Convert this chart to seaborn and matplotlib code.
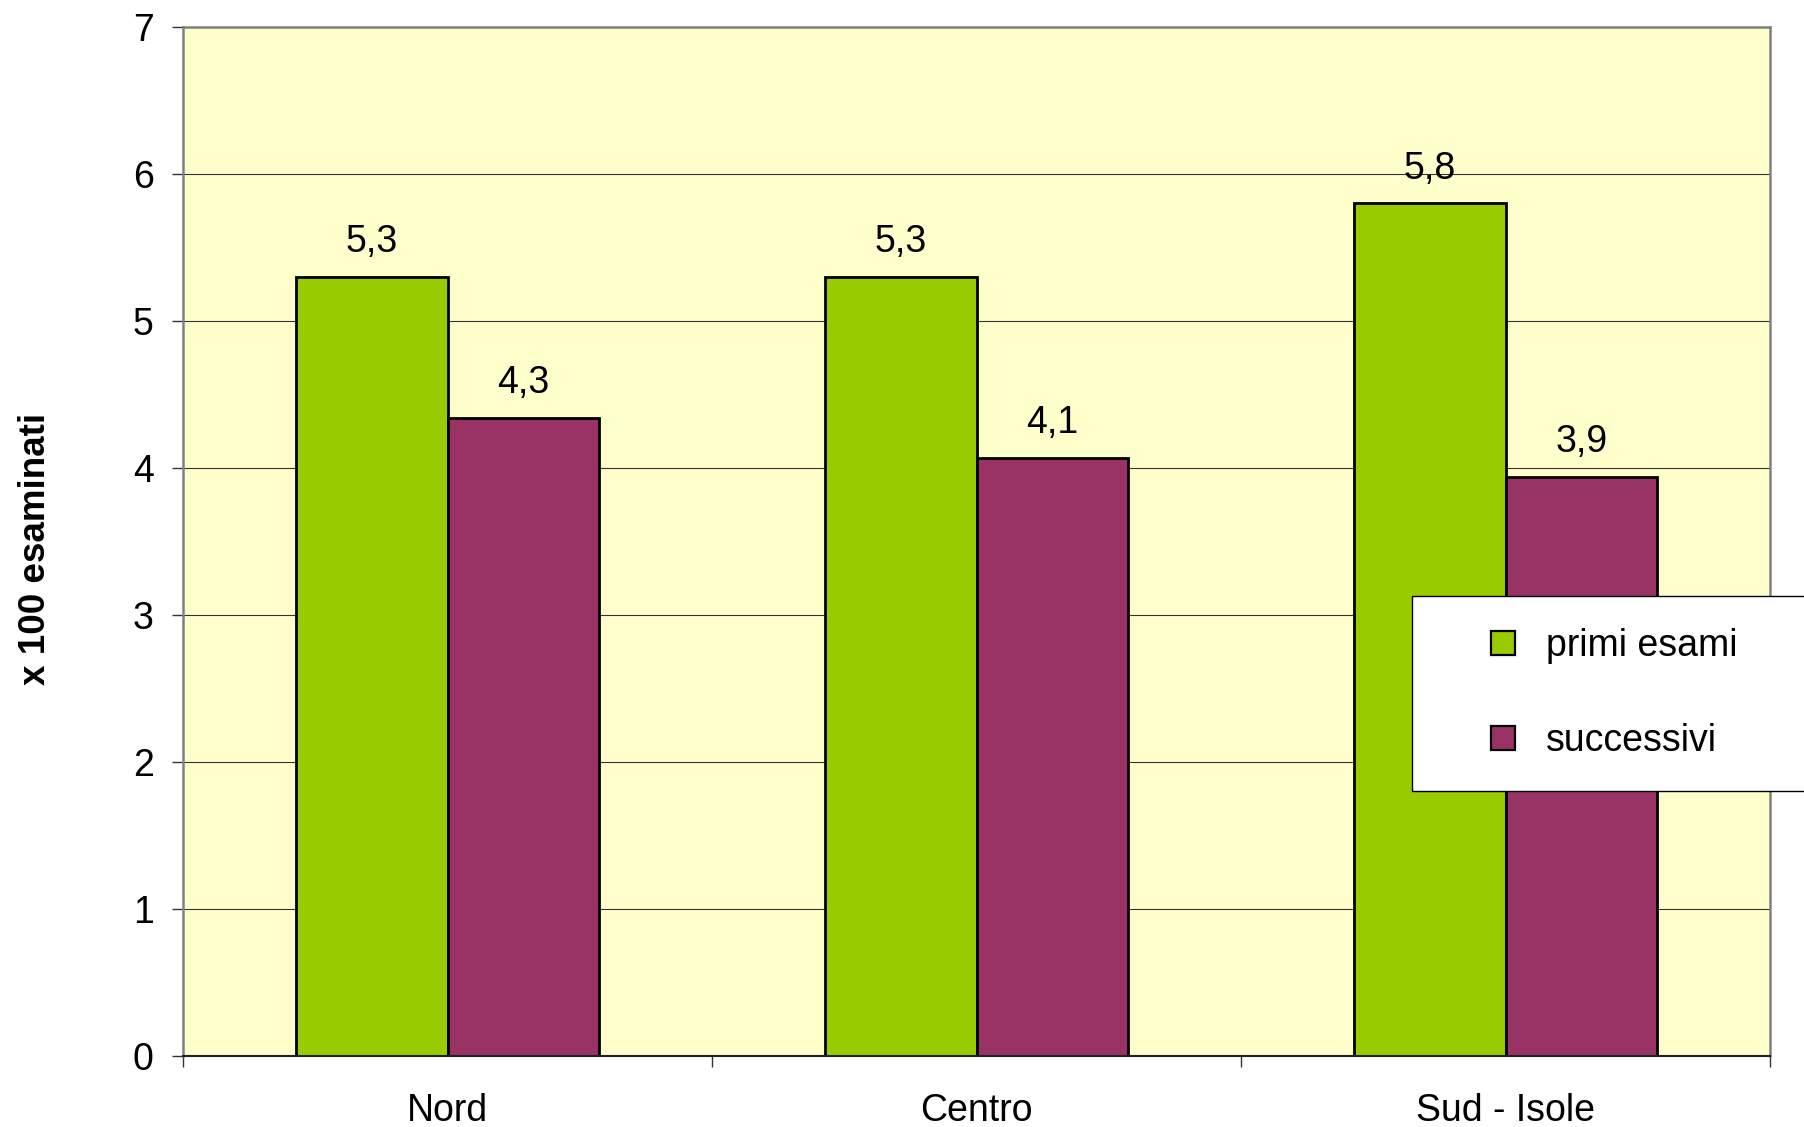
import matplotlib
matplotlib.use('Agg')
import matplotlib.pyplot as plt
import seaborn as sns
import pandas as pd
from matplotlib.lines import Line2D

regions = ['Nord', 'Centro', 'Sud - Isole']
series = ['primi esami', 'successivi']
primi_esami = [5.3, 5.3, 5.8]
successivi = [4.34, 4.07, 3.94]
colors = ['#99CC00', '#993366']
y_ticks = [0, 1, 2, 3, 4, 5, 6, 7]
y_label = 'x 100 esaminati'

df = pd.DataFrame({
    'regione': regions * 2,
    'serie': [series[0]] * len(regions) + [series[1]] * len(regions),
    'valore': primi_esami + successivi,
})

sns.set_style('white')
plt.rcParams['font.family'] = ['Liberation Sans', 'DejaVu Sans']
plt.rcParams['text.color'] = 'black'
plt.rcParams['xtick.labelcolor'] = 'black'
plt.rcParams['ytick.labelcolor'] = 'black'

FS = 27
W, H = 1804, 1127
fig = plt.figure(figsize=(W / 100, H / 100), dpi=100)
ax = fig.add_axes([183 / W, (H - 1056) / H, (1770 - 183) / W, (1056 - 27) / H])
ax.set_facecolor('#FFFFCC')

sns.barplot(data=df, x='regione', y='valore', hue='serie', order=regions,
            hue_order=series, palette=colors, width=0.573, gap=0,
            edgecolor='black', linewidth=2, saturation=1, legend=False, ax=ax)

ax.set_xlim(-0.5, len(regions) - 0.5)
ax.set_ylim(0, 7)
ax.set_yticks(y_ticks)
ax.yaxis.grid(True, color='#333333', linewidth=0.8)
ax.xaxis.grid(False)
ax.set_axisbelow(True)

ax.set_xlabel('')
ax.set_ylabel('')
ax.tick_params(axis='y', which='major', left=True, length=8, width=1,
               color='#333333', pad=13, labelsize=FS, labelcolor='black')
ax.tick_params(axis='x', which='major', bottom=True, length=0, pad=26.5,
               labelsize=FS, labelcolor='black')
ax.set_xticks([i - 0.5 for i in range(len(regions) + 1)], minor=True)
ax.tick_params(axis='x', which='minor', bottom=True, length=8, width=1, color='#333333')

for side in ['left', 'top', 'right']:
    ax.spines[side].set_color('#808080')
    ax.spines[side].set_linewidth(1.8)
ax.spines['bottom'].set_color('#222222')
ax.spines['bottom'].set_linewidth(1.5)

for cont, vals in zip(ax.containers, [primi_esami, successivi]):
    ax.bar_label(cont, labels=[f'{v:.1f}'.replace('.', ',') for v in vals],
                 padding=12, fontsize=FS, color='black')

fig.text(36 / W, 1 - 549 / H, y_label, rotation=90, ha='center', va='center',
         fontsize=26.5, fontweight='bold', color='black')

handles = [Line2D([], [], marker='s', linestyle='none', markersize=17.5,
                  markerfacecolor=c, markeredgecolor='black', markeredgewidth=1.6)
           for c in colors]
leg = ax.legend(handles, series, loc='upper left',
                bbox_to_anchor=(1412 / W, 0, 0.3, 1 - 596 / H),
                bbox_transform=fig.transFigure, mode='expand', borderaxespad=0,
                borderpad=0.86, labelspacing=1.56, handlelength=3.15,
                handletextpad=-0.45, fontsize=FS, frameon=True, fancybox=False,
                framealpha=1, edgecolor='black', labelcolor='black')
leg.get_frame().set_linewidth(1)

fig.savefig('out.png', dpi=100)
